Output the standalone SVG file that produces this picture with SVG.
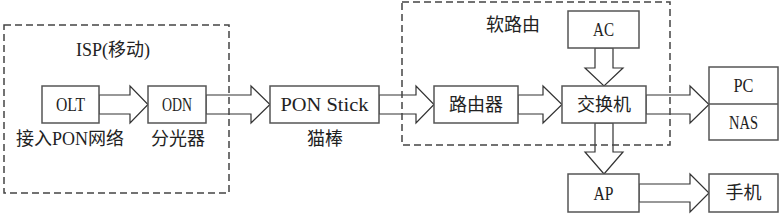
<svg xmlns="http://www.w3.org/2000/svg" width="783" height="214" viewBox="0 0 783 214">
<style>
.box{fill:#fff;stroke:#555;stroke-width:1.5}
.dash{fill:none;stroke:#444;stroke-width:1.5;stroke-dasharray:7,4}
.arr{fill:#fff;stroke:#333;stroke-width:1.2;stroke-linejoin:miter}
text{font-family:"Liberation Serif","Noto Sans CJK SC",serif;font-size:18px;fill:#222;text-anchor:middle;dominant-baseline:central}
.lt{font-size:19.5px}
</style>
<rect width="783" height="214" fill="#fff"/>
<g id="connectors">
<polygon class="arr" points="99,95 130,95 130,86 148,104.5 130,123 130,114 99,114"/>
<polygon class="arr" points="206,95 251,95 251,86 270,104.5 251,123 251,114 206,114"/>
<polygon class="arr" points="379,95 416,95 416,86 434,104.5 416,123 416,114 379,114"/>
<polygon class="arr" points="518,95 543,95 543,86 562,104.5 543,123 543,114 518,114"/>
<polygon class="arr" points="646,95 690,95 690,86 709,104.5 690,123 690,114 646,114"/>
<polygon class="arr" points="639,184 690,184 690,174 709,193 690,212 690,202 639,202"/>
<polygon class="arr" points="595,48 613,48 613,68 623,68 604,86 585,68 595,68"/>
<polygon class="arr" points="595,123 613,123 613,152 623,152 604,174 585,152 595,152"/>
</g>
<g id="isp">
<rect class="dash" x="4" y="25" width="225" height="168"/>
<text x="113" y="50">ISP(移动)</text>
</g>
<g id="softrouter">
<rect class="dash" x="402" y="2" width="268" height="143"/>
<text x="513" y="25">软路由</text>
</g>
<g id="olt">
<rect class="box" x="42" y="86" width="57" height="37"/>
<text class="lt" x="70.5" y="104.5" textLength="29" lengthAdjust="spacingAndGlyphs">OLT</text>
<text x="70" y="139">接入PON网络</text>
</g>
<g id="odn">
<rect class="box" x="148" y="86" width="58" height="37"/>
<text class="lt" x="177" y="104.5" textLength="30" lengthAdjust="spacingAndGlyphs">ODN</text>
<text x="178" y="139">分光器</text>
</g>
<g id="ponstick">
<rect class="box" x="270" y="86" width="109" height="37"/>
<text class="lt" x="324.5" y="104.5" textLength="88" lengthAdjust="spacingAndGlyphs">PON Stick</text>
<text x="325" y="139">猫棒</text>
</g>
<g id="router">
<rect class="box" x="434" y="86" width="84" height="37"/>
<text x="476" y="104.5">路由器</text>
</g>
<g id="switch">
<rect class="box" x="562" y="86" width="84" height="37"/>
<text x="604" y="104.5">交换机</text>
</g>
<g id="ac">
<rect class="box" x="568" y="11" width="71" height="37"/>
<text class="lt" x="603.5" y="29.5" textLength="21" lengthAdjust="spacingAndGlyphs">AC</text>
</g>
<g id="ap">
<rect class="box" x="568" y="174" width="71" height="38"/>
<text class="lt" x="603.5" y="193" textLength="20" lengthAdjust="spacingAndGlyphs">AP</text>
</g>
<g id="pcnas">
<rect class="box" x="709" y="67" width="69" height="73"/>
<line x1="709" y1="104" x2="778" y2="104" stroke="#555" stroke-width="1.5"/>
<text class="lt" x="743.5" y="85.5" textLength="20" lengthAdjust="spacingAndGlyphs">PC</text>
<text class="lt" x="743.5" y="122" textLength="29" lengthAdjust="spacingAndGlyphs">NAS</text>
</g>
<g id="phone">
<rect class="box" x="709" y="174" width="69" height="38"/>
<text x="743.5" y="193">手机</text>
</g>
</svg>
